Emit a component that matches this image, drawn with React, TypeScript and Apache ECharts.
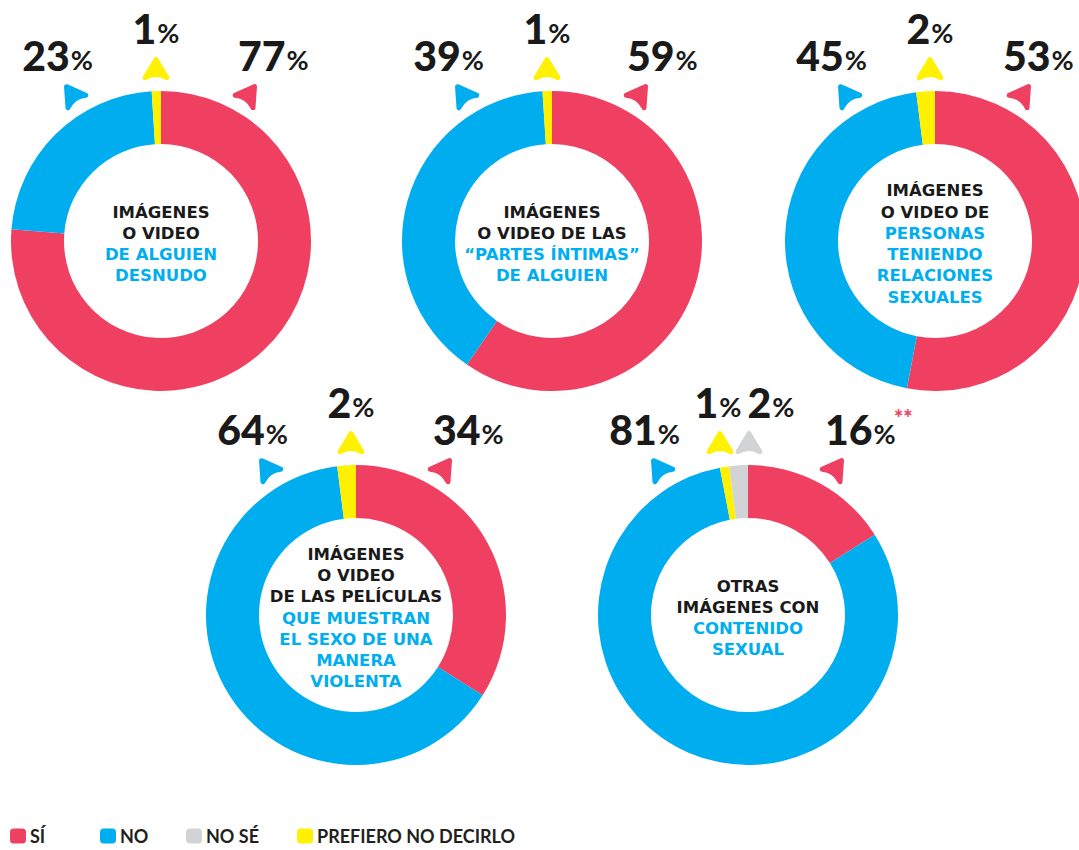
import React, { useEffect, useRef } from "react";
import * as echarts from "echarts";

// ---- Data ----
const categories = ["SÍ", "NO", "PREFIERO NO DECIRLO", "NO SÉ"];
const legendOrder = ["SÍ", "NO", "NO SÉ", "PREFIERO NO DECIRLO"];
const siValues = [77, 59, 53, 34, 16];
const noValues = [23, 39, 45, 64, 81];
const prefieroValues = [1, 1, 2, 2, 1];
const noSeValues: (number | null)[] = [null, null, null, null, 2];
const titlesBlack = [
  ["IMÁGENES", "O VIDEO"],
  ["IMÁGENES", "O VIDEO DE LAS"],
  ["IMÁGENES", "O VIDEO DE"],
  ["IMÁGENES", "O VIDEO", "DE LAS PELÍCULAS"],
  ["OTRAS", "IMÁGENES CON"],
];
const titlesBlue = [
  ["DE ALGUIEN", "DESNUDO"],
  ["“PARTES ÍNTIMAS”", "DE ALGUIEN"],
  ["PERSONAS", "TENIENDO", "RELACIONES", "SEXUALES"],
  ["QUE MUESTRAN", "EL SEXO DE UNA", "MANERA", "VIOLENTA"],
  ["CONTENIDO", "SEXUAL"],
];
const footnoteMarks = ["", "", "", "", "**"];

// ---- Styles / layout ----
const COLORS: Record<string, string> = {
  "SÍ": "#EF4062",
  "NO": "#00AEEF",
  "PREFIERO NO DECIRLO": "#FFF100",
  "NO SÉ": "#D1D3D4",
};
const TEXT = "#1a1a1a";
const FONT = "Lato, 'Noto Sans', sans-serif";
const TITLE_FONT = "'DejaVu Sans', sans-serif";
const centers: [number, number][] = [
  [161, 241],
  [552, 241],
  [935, 241],
  [356, 615],
  [748, 615],
];
const rightLabelOffset = [77, 75, 68, 77, 77];
const legendLeft = [5, 95, 181, 292];

echarts.graphic.registerShape(
  "arrowHead",
  echarts.graphic.extendPath("M0,-11L10.5,6.5Q0,0.5,-10.5,6.5Z", {})
);

const valueArrays = [siValues, noValues, prefieroValues, noSeValues];

function pctText(v: number) {
  return `{n|${v}}{p|%}`;
}
const pctRich = {
  n: { fontSize: 41, fontWeight: 900, fontFamily: FONT, fill: TEXT, color: TEXT, verticalAlign: "bottom", lineHeight: 44 },
  p: { fontSize: 27, fontWeight: 700, fontFamily: FONT, fill: TEXT, color: TEXT, verticalAlign: "bottom", lineHeight: 44, padding: [0, 0, 3, 1] },
};

export default function App() {
  const ref = useRef<HTMLDivElement>(null);
  useEffect(() => {
    document.body.style.margin = "0";
    if (!ref.current) return;
    const chart = echarts.init(ref.current, undefined, { renderer: "svg" });

    const graphics: any[] = [];
    centers.forEach(([cx, cy], i) => {
      const lines = [
        ...titlesBlack[i].map((t) => `{b|${t}}`),
        ...titlesBlue[i].map((t) => `{c|${t}}`),
      ].join("\n");
      graphics.push({
        type: "text",
        x: cx,
        y: cy + 3,
        silent: true,
        style: {
          text: lines,
          align: "center",
          verticalAlign: "middle",
          rich: {
            b: { fontSize: 16.5, fontWeight: "bold", fontFamily: TITLE_FONT, fill: TEXT, color: TEXT, lineHeight: 21.3 },
            c: { fontSize: 16.5, fontWeight: "bold", fontFamily: TITLE_FONT, fill: COLORS["NO"], color: COLORS["NO"], lineHeight: 21.3 },
          },
        },
      });
      const arrowStyle = (name: string) => ({
        fill: COLORS[name], stroke: COLORS[name], lineWidth: 4.5, lineJoin: "round",
      });
      // NO (left)
      graphics.push({
        type: "text", x: cx - 68, y: cy - 165, silent: true,
        style: { text: pctText(noValues[i]), rich: pctRich, align: "right", verticalAlign: "bottom" },
      });
      graphics.push({
        type: "arrowHead", x: cx - 88, y: cy - 145, rotation: 0.61, scaleX: 1.05, scaleY: 1.05, silent: true,
        style: arrowStyle("NO"),
      });
      // SÍ (right)
      graphics.push({
        type: "text", x: cx + rightLabelOffset[i], y: cy - 165, silent: true,
        style: { text: pctText(siValues[i]), rich: pctRich, align: "left", verticalAlign: "bottom" },
      });
      graphics.push({
        type: "arrowHead", x: cx + 87, y: cy - 145, rotation: -0.61, scaleX: 1.05, scaleY: 1.05, silent: true,
        style: arrowStyle("SÍ"),
      });
      // top labels
      const hasNoSe = noSeValues[i] != null;
      const xText = hasNoSe ? cx - 30 : cx - 5;
      const xArrow = hasNoSe ? cx - 28 : cx - 5;
      graphics.push({
        type: "text", x: xText, y: cy - 192, silent: true,
        style: { text: pctText(prefieroValues[i]), rich: pctRich, align: "center", verticalAlign: "bottom" },
      });
      graphics.push({
        type: "arrowHead", x: xArrow, y: cy - 170, rotation: 0, scaleX: 1.05, scaleY: 1.05, silent: true,
        style: arrowStyle("PREFIERO NO DECIRLO"),
      });
      if (hasNoSe) {
        graphics.push({
          type: "text", x: cx + 23, y: cy - 192, silent: true,
          style: { text: pctText(noSeValues[i] as number), rich: pctRich, align: "center", verticalAlign: "bottom" },
        });
        graphics.push({
          type: "arrowHead", x: cx + 1, y: cy - 170, rotation: 0, scaleX: 1.05, scaleY: 1.05, silent: true,
          style: arrowStyle("NO SÉ"),
        });
      }
      if (footnoteMarks[i]) {
        graphics.push({
          type: "text", x: cx + 146, y: cy - 209, silent: true,
          style: { text: footnoteMarks[i], fontSize: 22, fontWeight: 900, fontFamily: FONT, fill: COLORS["SÍ"], align: "left", verticalAlign: "top" },
        });
      }
    });

    const series = centers.map((c, i) => ({
      type: "pie",
      center: c,
      radius: [97, 150],
      startAngle: 90,
      clockwise: true,
      silent: true,
      avoidLabelOverlap: false,
      label: { show: false },
      labelLine: { show: false },
      emphasis: { disabled: true },
      itemStyle: { borderWidth: 0 },
      data: categories
        .map((name, k) => ({ name, value: valueArrays[k][i], itemStyle: { color: COLORS[name] } }))
        .filter((d) => d.value != null),
    }));

    const legend = legendOrder.map((name, k) => ({
      data: [name],
      left: legendLeft[k],
      top: 822,
      orient: "horizontal",
      icon: "roundRect",
      itemWidth: 16,
      itemHeight: 15,
      selectedMode: false,
      textStyle: { fontSize: 18, fontWeight: 700, fontFamily: FONT, color: "#231F20", padding: [0, 0, 0, -1] },
    }));

    chart.setOption({
      animation: false,
      backgroundColor: "#ffffff",
      legend,
      series,
      graphic: graphics,
    });
    return () => chart.dispose();
  }, []);
  return <div ref={ref} style={{ width: 1079, height: 850 }} />;
}
